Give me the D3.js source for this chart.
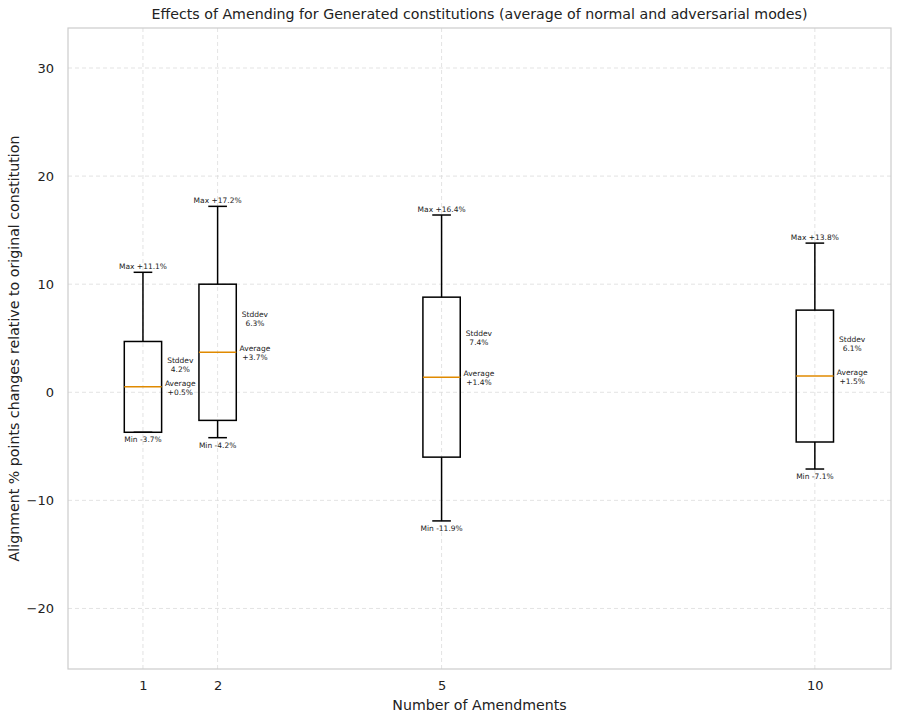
<!DOCTYPE html>
<html><head><meta charset="utf-8">
<script src="https://cdn.jsdelivr.net/npm/d3@7"></script>
<style>body{margin:0;background:#fff}svg{display:block}text{font-family:"DejaVu Sans",sans-serif}</style>
</head><body><svg id="c" width="900" height="719"></svg>
<script>
const amendments = [1, 2, 5, 10];
const averages = [0.5, 3.7, 1.4, 1.5];
const stddevs = [4.2, 6.3, 7.4, 6.1];
const mins = [-3.7, -4.2, -11.9, -7.1];
const maxs = [11.1, 17.2, 16.4, 13.8];
const yTicks = [-20, -10, 0, 10, 20, 30];

const svg = d3.select("#c");
const L = 68, R = 891, T = 28, B = 669;
const x = d3.scaleLinear().domain([-0.004, 11.02]).range([L, R]);
const y = d3.scaleLinear().domain([-25.6, 33.7]).range([B, T]);

// grid
const g = svg.append("g");
g.selectAll(".gy").data(yTicks).join("line")
  .attr("x1", L).attr("x2", R).attr("y1", d => y(d)).attr("y2", d => y(d))
  .attr("stroke", "#dcdcdc").attr("stroke-width", 0.8).attr("stroke-dasharray", "4,3");
g.selectAll(".gx").data(amendments).join("line")
  .attr("y1", T).attr("y2", B).attr("x1", d => x(d)).attr("x2", d => x(d))
  .attr("stroke", "#dcdcdc").attr("stroke-width", 0.8).attr("stroke-dasharray", "4,3");

// axes
const yAxis = d3.axisLeft(y).tickValues(yTicks).tickSize(0).tickPadding(14)
  .tickFormat(d => d < 0 ? "\u2212" + Math.abs(d) : d);
svg.append("g").attr("transform", `translate(${L},0)`).call(yAxis)
  .call(a => a.select(".domain").remove())
  .selectAll("text").attr("font-size", 13).attr("fill", "#222");
const xAxis = d3.axisBottom(x).tickValues(amendments).tickSize(0).tickPadding(12);
svg.append("g").attr("transform", `translate(0,${B})`).call(xAxis)
  .call(a => a.select(".domain").remove())
  .selectAll("text").attr("font-size", 13).attr("fill", "#222");

svg.append("rect").attr("x", L).attr("y", T).attr("width", R - L).attr("height", B - T)
  .attr("fill", "none").attr("stroke", "#cccccc").attr("stroke-width", 1.2);

const data = amendments.map((a, i) => ({a, m: averages[i], s: stddevs[i], lo: mins[i], hi: maxs[i]}));
const bw = x(0.5) - x(0);
const cw = bw / 2;
const boxes = svg.append("g").selectAll("g").data(data).join("g");

// whiskers
boxes.append("line").attr("x1", d => x(d.a)).attr("x2", d => x(d.a))
  .attr("y1", d => y(d.hi)).attr("y2", d => y(d.m + d.s)).attr("stroke", "#000").attr("stroke-width", 1.5);
boxes.append("line").attr("x1", d => x(d.a)).attr("x2", d => x(d.a))
  .attr("y1", d => y(d.lo)).attr("y2", d => y(Math.max(d.lo, d.m - d.s))).attr("stroke", "#000").attr("stroke-width", 1.5);
boxes.append("line").attr("x1", d => x(d.a) - cw / 2).attr("x2", d => x(d.a) + cw / 2)
  .attr("y1", d => y(d.hi)).attr("y2", d => y(d.hi)).attr("stroke", "#000").attr("stroke-width", 1.5);
boxes.append("line").attr("x1", d => x(d.a) - cw / 2).attr("x2", d => x(d.a) + cw / 2)
  .attr("y1", d => y(d.lo)).attr("y2", d => y(d.lo)).attr("stroke", "#000").attr("stroke-width", 1.5);
// box
boxes.append("rect").attr("x", d => x(d.a) - bw / 2).attr("width", bw)
  .attr("y", d => y(d.m + d.s)).attr("height", d => y(Math.max(d.lo, d.m - d.s)) - y(d.m + d.s))
  .attr("fill", "none").attr("stroke", "#000").attr("stroke-width", 1.5);
// mean line
boxes.append("line").attr("x1", d => x(d.a) - bw / 2).attr("x2", d => x(d.a) + bw / 2)
  .attr("y1", d => y(d.m)).attr("y2", d => y(d.m)).attr("stroke", "#e08a00").attr("stroke-width", 1.5);

const fmt = v => (v >= 0 ? "+" : "") + v.toFixed(1) + "%";
const fs = 7.5;
boxes.append("text").attr("x", d => x(d.a)).attr("y", d => y(d.hi) - 3)
  .attr("text-anchor", "middle").attr("font-size", fs).attr("fill", "#222").text(d => "Max " + fmt(d.hi));
boxes.append("text").attr("x", d => x(d.a)).attr("y", d => y(d.lo) + 10)
  .attr("text-anchor", "middle").attr("font-size", fs).attr("fill", "#222").text(d => "Min " + d.lo.toFixed(1) + "%");
const st = boxes.append("text").attr("text-anchor", "middle").attr("font-size", fs).attr("fill", "#222");
st.append("tspan").attr("x", d => x(d.a + 0.5)).attr("y", d => y(d.m + d.s / 2) - 1).text("Stddev");
st.append("tspan").attr("x", d => x(d.a + 0.5)).attr("y", d => y(d.m + d.s / 2) + 8).text(d => d.s.toFixed(1) + "%");
const av = boxes.append("text").attr("text-anchor", "middle").attr("font-size", fs).attr("fill", "#222");
av.append("tspan").attr("x", d => x(d.a + 0.5)).attr("y", d => y(d.m) - 1).text("Average");
av.append("tspan").attr("x", d => x(d.a + 0.5)).attr("y", d => y(d.m) + 8).text(d => fmt(d.m));

svg.append("text").attr("x", (L + R) / 2).attr("y", 19).attr("text-anchor", "middle")
  .attr("font-size", 14.2).attr("fill", "#222")
  .text("Effects of Amending for Generated constitutions (average of normal and adversarial modes)");
svg.append("text").attr("x", (L + R) / 2).attr("y", 710).attr("text-anchor", "middle")
  .attr("font-size", 14.2).attr("fill", "#222").text("Number of Amendments");
svg.append("text").attr("transform", `translate(19,${(T + B) / 2}) rotate(-90)`).attr("text-anchor", "middle")
  .attr("font-size", 14.2).attr("fill", "#222").text("Alignment % points changes relative to original constitution");
</script></body></html>
